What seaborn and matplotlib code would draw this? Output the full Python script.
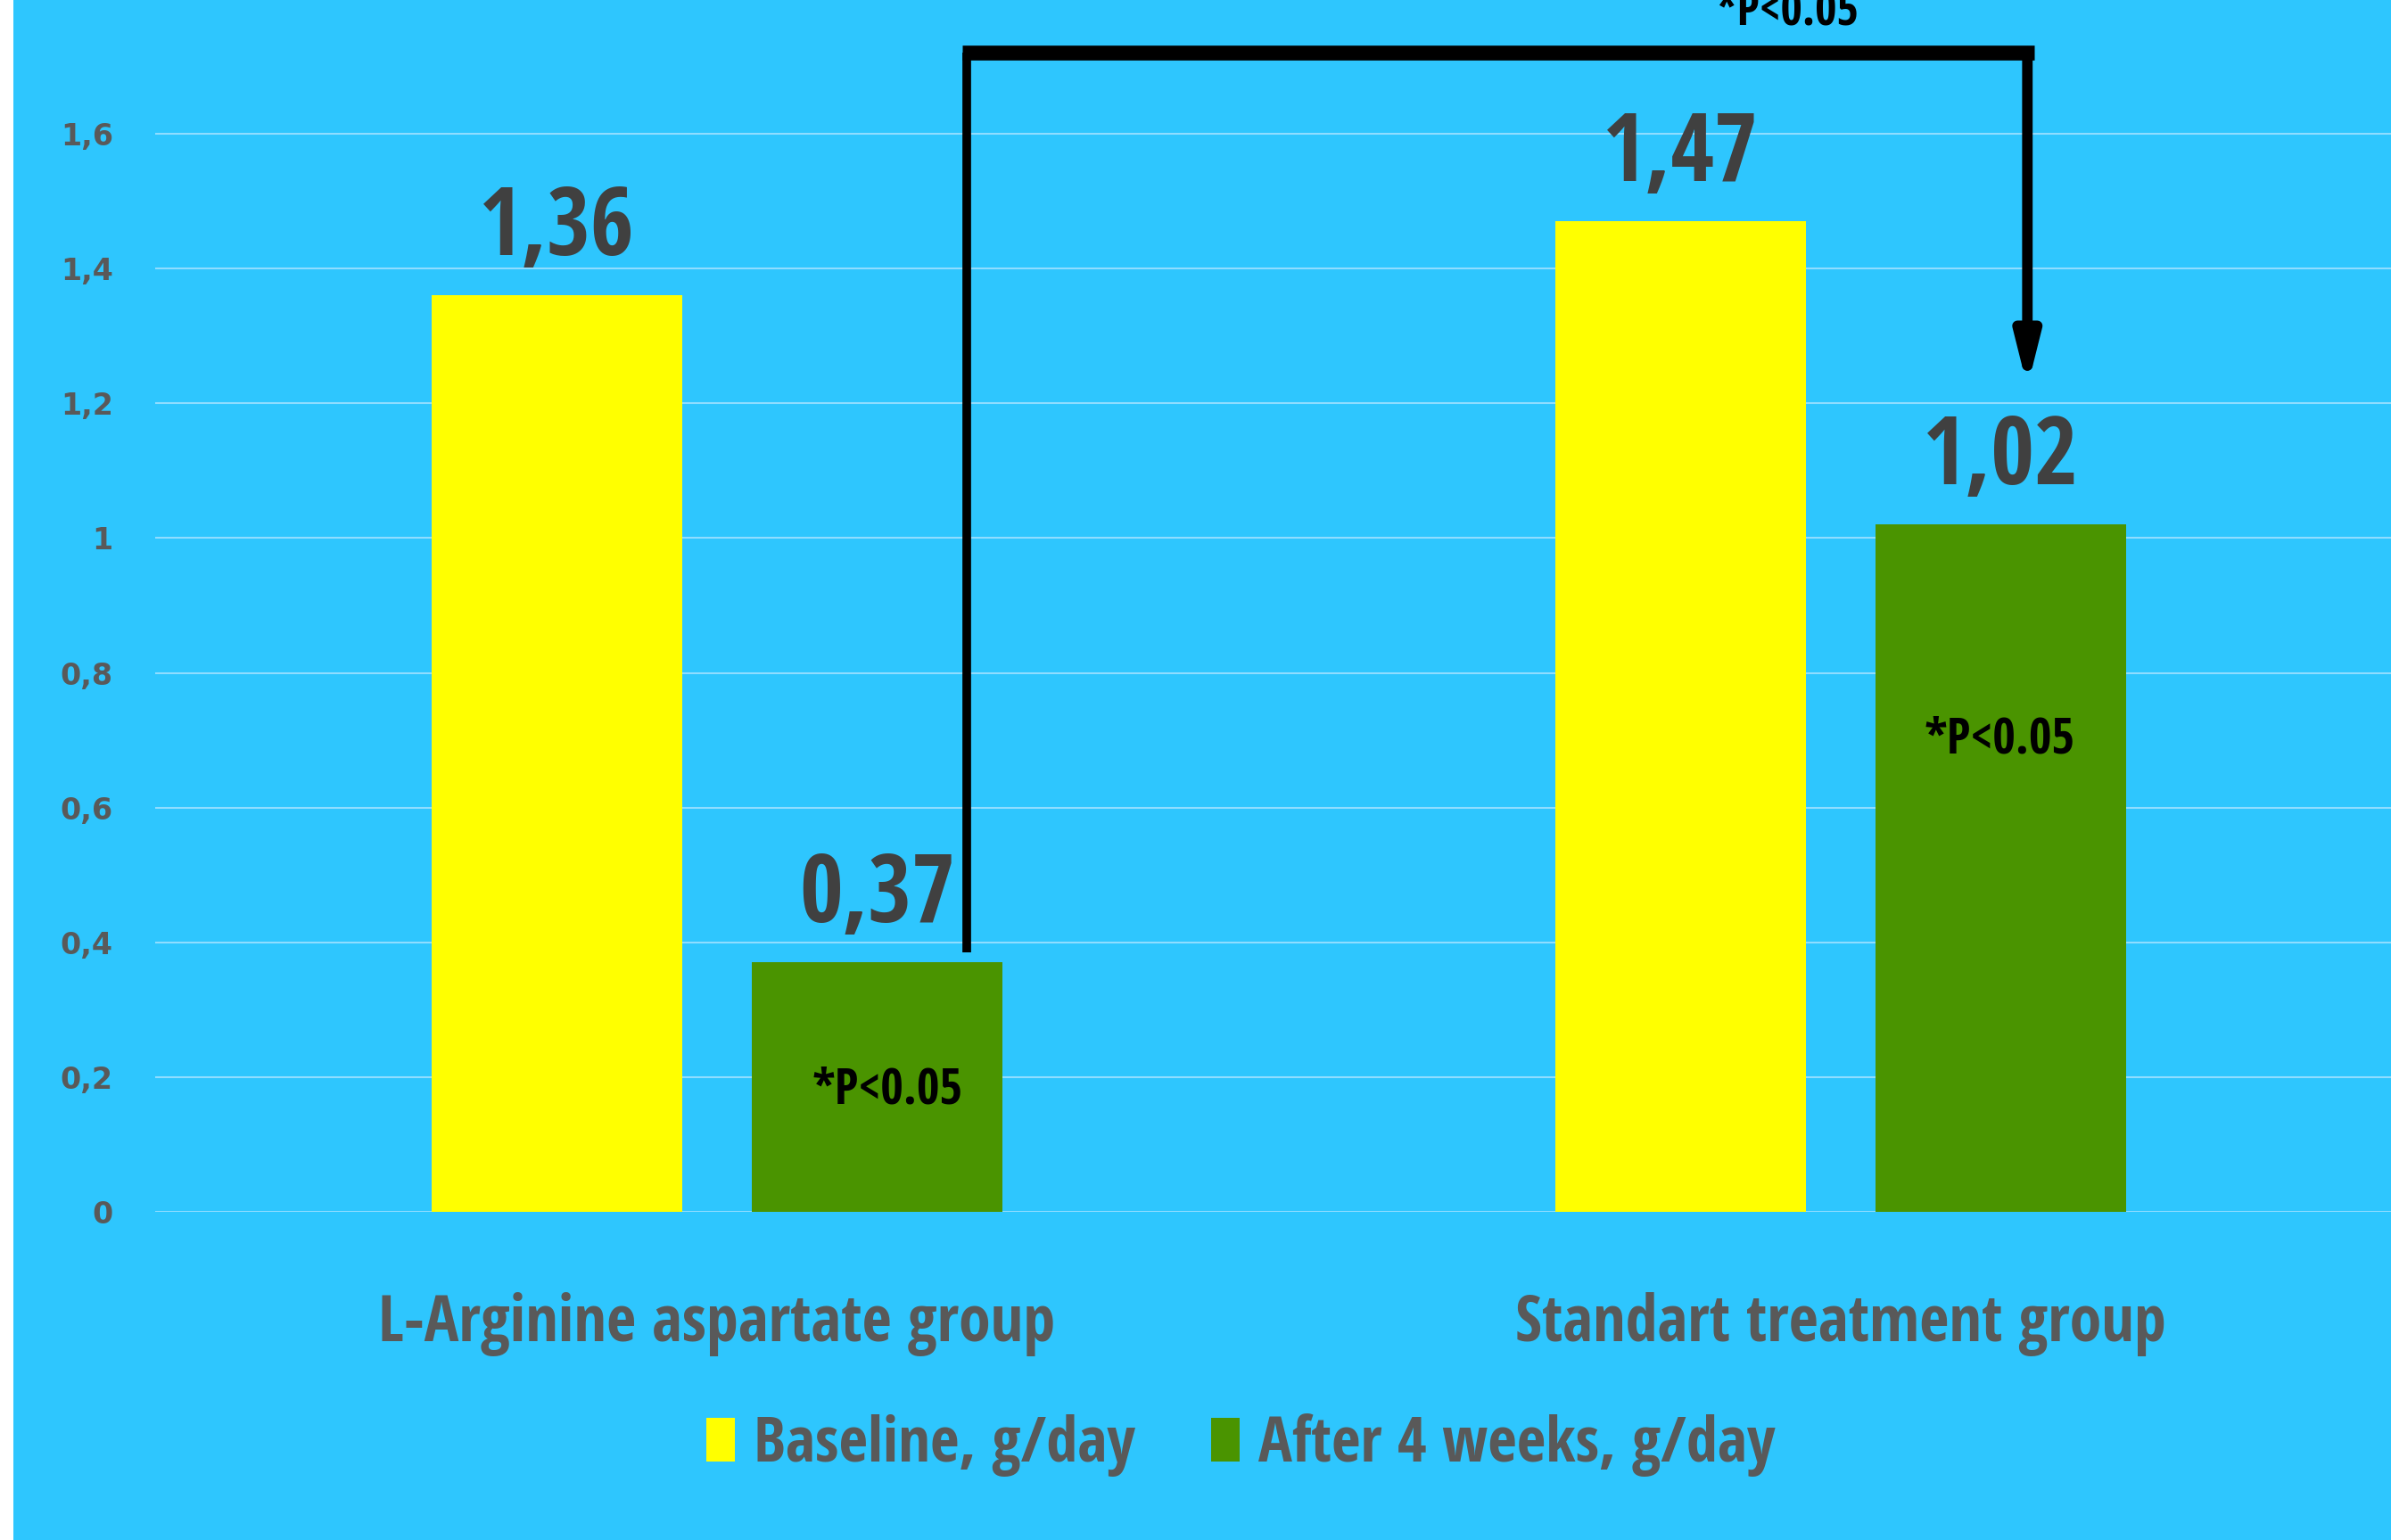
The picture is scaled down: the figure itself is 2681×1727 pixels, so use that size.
import matplotlib
matplotlib.use("Agg")
import matplotlib.pyplot as plt
import pandas as pd
import seaborn as sns
from matplotlib import font_manager
from matplotlib.patches import Rectangle, Patch

groups = ["L-Arginine aspartate group", "Standart treatment group"]
periods = ["Baseline, g/day", "After 4 weeks, g/day"]
baseline = [1.36, 1.47]
after_4_weeks = [0.37, 1.02]
value_labels = [["1,36", "1,47"], ["0,37", "1,02"]]
y_ticks = [0, 0.2, 0.4, 0.6, 0.8, 1.0, 1.2, 1.4, 1.6]
y_tick_labels = ["0", "0,2", "0,4", "0,6", "0,8", "1", "1,2", "1,4", "1,6"]
p_text = "*P<0.05"

BG = "#2EC6FE"
YELLOW = "#FFFF00"
GREEN = "#4A9400"
GRAY = "#595959"
DARK = "#404040"

# narrow bold face for the slide text, DejaVu as a last resort
available = {f.name for f in font_manager.fontManager.ttflist}
NARROW = [f for f in ["Open Sans Condensed", "PT Sans Narrow"] if f in available]
NARROW.append("DejaVu Sans")

df = pd.DataFrame({
    "Group": groups * 2,
    "Period": [periods[0]] * 2 + [periods[1]] * 2,
    "Value": baseline + after_4_weeks,
})

sns.set_style("white")
fig = plt.figure(figsize=(26.81, 17.27), dpi=100)
fig.patch.set_facecolor("white")
fig.patches.append(Rectangle((15 / 2681, 0), 1, 1, transform=fig.transFigure,
                             facecolor=BG, edgecolor="none", zorder=-10))

ax = fig.add_axes([0.0649, 0.2131, 0.94, 0.7875])
ax.patch.set_alpha(0)

sns.barplot(data=df, x="Group", y="Value", hue="Period", hue_order=periods,
            palette=[YELLOW, GREEN], saturation=1, width=0.569, gap=0.216,
            errorbar=None, legend=False, linewidth=0, ax=ax)

ax.set_xlim(-0.5, 1.5)
ax.set_ylim(0, 1.8)
ax.set_yticks(y_ticks)
ax.set_yticklabels(y_tick_labels)
for s in ax.spines.values():
    s.set_visible(False)
ax.grid(axis="y", color="#8FDDFF", linewidth=1.5)
ax.set_axisbelow(True)
ax.set_xlabel("")
ax.set_ylabel("")
ax.tick_params(axis="y", length=0, pad=34, labelsize=24, labelcolor=GRAY)
ax.tick_params(axis="x", length=0, pad=65)
for t in ax.get_yticklabels():
    t.set_fontweight("bold")
for t in ax.get_xticklabels():
    t.set_fontfamily(NARROW)
    t.set_fontweight("bold")
    t.set_fontsize(52)
    t.set_color(GRAY)

# value labels above bars
for container, labels in zip(ax.containers, value_labels):
    ax.bar_label(container, labels=labels, padding=14, fontsize=76,
                 fontweight="bold", color=DARK, family=NARROW)

# significance markers inside green bars
ax.text(0.152, 0.18, p_text, ha="center", va="center", fontsize=40,
        fontweight="bold", color="black", family=NARROW)
ax.text(1.141, 0.70, p_text, ha="center", va="center", fontsize=40,
        fontweight="bold", color="black", family=NARROW)

# bracket between groups
ax.plot([0.222, 0.222], [0.385, 1.72], color="black", lw=7,
        solid_capstyle="butt", clip_on=False)
ax.plot([0.218, 1.172], [1.72, 1.72], color="black", lw=12,
        solid_capstyle="butt", clip_on=False)
ax.annotate("", xy=(1.166, 1.224), xytext=(1.166, 1.722),
            arrowprops=dict(arrowstyle="-|>,head_length=3.2,head_width=0.8",
                            color="black", lw=8.5, shrinkA=0, shrinkB=0),
            annotation_clip=False)
fig.text(2004 / 2681, 1 - 40 / 1727, p_text, ha="center", va="bottom",
         fontsize=38, fontweight="bold", color="black", family=NARROW)

handles = [Patch(facecolor=YELLOW, edgecolor="none"),
           Patch(facecolor=GREEN, edgecolor="none")]
fig.legend(handles, periods, loc="center", bbox_to_anchor=(0.519, 0.0614),
           ncol=2, frameon=False, handlelength=0.45, handleheight=0.7,
           handletextpad=0.3, columnspacing=1.2,
           prop={"family": NARROW, "weight": "bold", "size": 51},
           labelcolor=GRAY)

fig.savefig("out.png", dpi=100, facecolor=fig.get_facecolor())
